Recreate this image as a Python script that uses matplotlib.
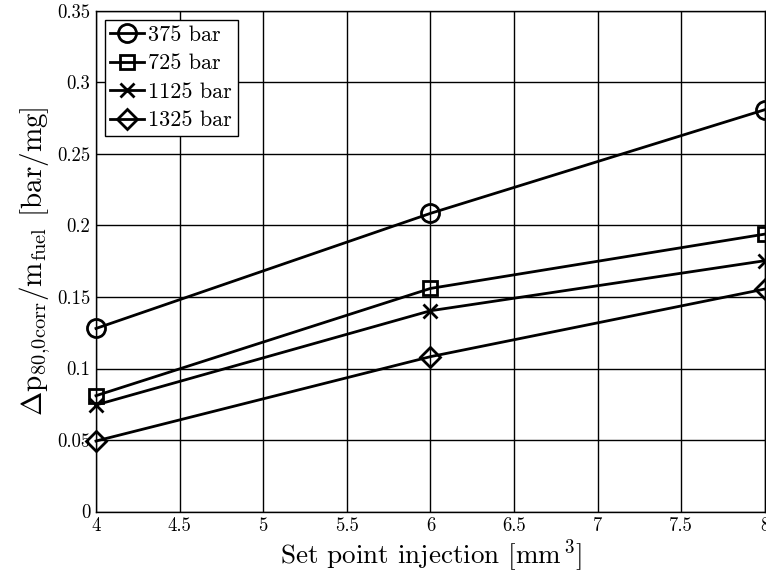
import matplotlib
matplotlib.use("Agg")
import matplotlib.pyplot as plt

plt.rcParams['font.family'] = 'serif'
plt.rcParams['font.serif'] = ['cmr10', 'DejaVu Serif']
plt.rcParams['mathtext.fontset'] = 'cm'
plt.rcParams['axes.formatter.use_mathtext'] = True

x_vals = [4, 6, 8]
p375 = [0.128, 0.2085, 0.281]
p725 = [0.081, 0.156, 0.194]
p1125 = [0.0745, 0.1404, 0.1754]
p1325 = [0.0493, 0.1083, 0.1556]
series_labels = ['375 bar', '725 bar', '1125 bar', '1325 bar']
markers = ['o', 's', 'x', 'D']
x_ticks = [4, 4.5, 5, 5.5, 6, 6.5, 7, 7.5, 8]
x_tick_labels = ['4', '4.5', '5', '5.5', '6', '6.5', '7', '7.5', '8']
y_ticks = [0, 0.05, 0.1, 0.15, 0.2, 0.25, 0.3, 0.35]
y_tick_labels = ['0', '0.05', '0.1', '0.15', '0.2', '0.25', '0.3', '0.35']

fig = plt.figure(figsize=(7.66, 5.75), dpi=100)
ax = fig.add_axes([0.1253, 0.1104, 0.8734, 0.8705])

sizes = {'o': 13, 's': 10, 'x': 10, 'D': 10}
for ys, lab, m in zip([p375, p725, p1125, p1325], series_labels, markers):
    ax.plot(x_vals, ys, color='black', lw=2.0, marker=m,
            markersize=sizes[m], markerfacecolor='none',
            markeredgecolor='black', markeredgewidth=2.0,
            label=lab, clip_on=False, zorder=3)

ax.set_xlim(4, 8)
ax.set_ylim(0, 0.35)
ax.set_xticks(x_ticks)
ax.set_xticklabels(x_tick_labels)
ax.set_yticks(y_ticks)
ax.set_yticklabels(y_tick_labels)
ax.tick_params(direction='in', labelsize=13.5, length=0, pad=4)
ax.grid(True, color='black', lw=1.0)
for s in ax.spines.values():
    s.set_linewidth(1.0)

ax.set_xlabel('Set point injection [mm$^{\\,3}$]', fontsize=19.5, labelpad=2)
ax.set_ylabel(r'$\Delta\mathrm{p}_{80{,}0\mathrm{corr}}/\mathrm{m}_{\mathrm{fuel}}$ [bar/mg]',
              fontsize=21, labelpad=3)

leg = ax.legend(loc='upper left', fontsize=16, fancybox=False, framealpha=1,
                edgecolor='black', handlelength=1.5, handletextpad=0.2,
                borderpad=0.25, labelspacing=0.4, borderaxespad=0.4)
leg.get_frame().set_linewidth(1.0)

fig.savefig('out.png', dpi=100)
